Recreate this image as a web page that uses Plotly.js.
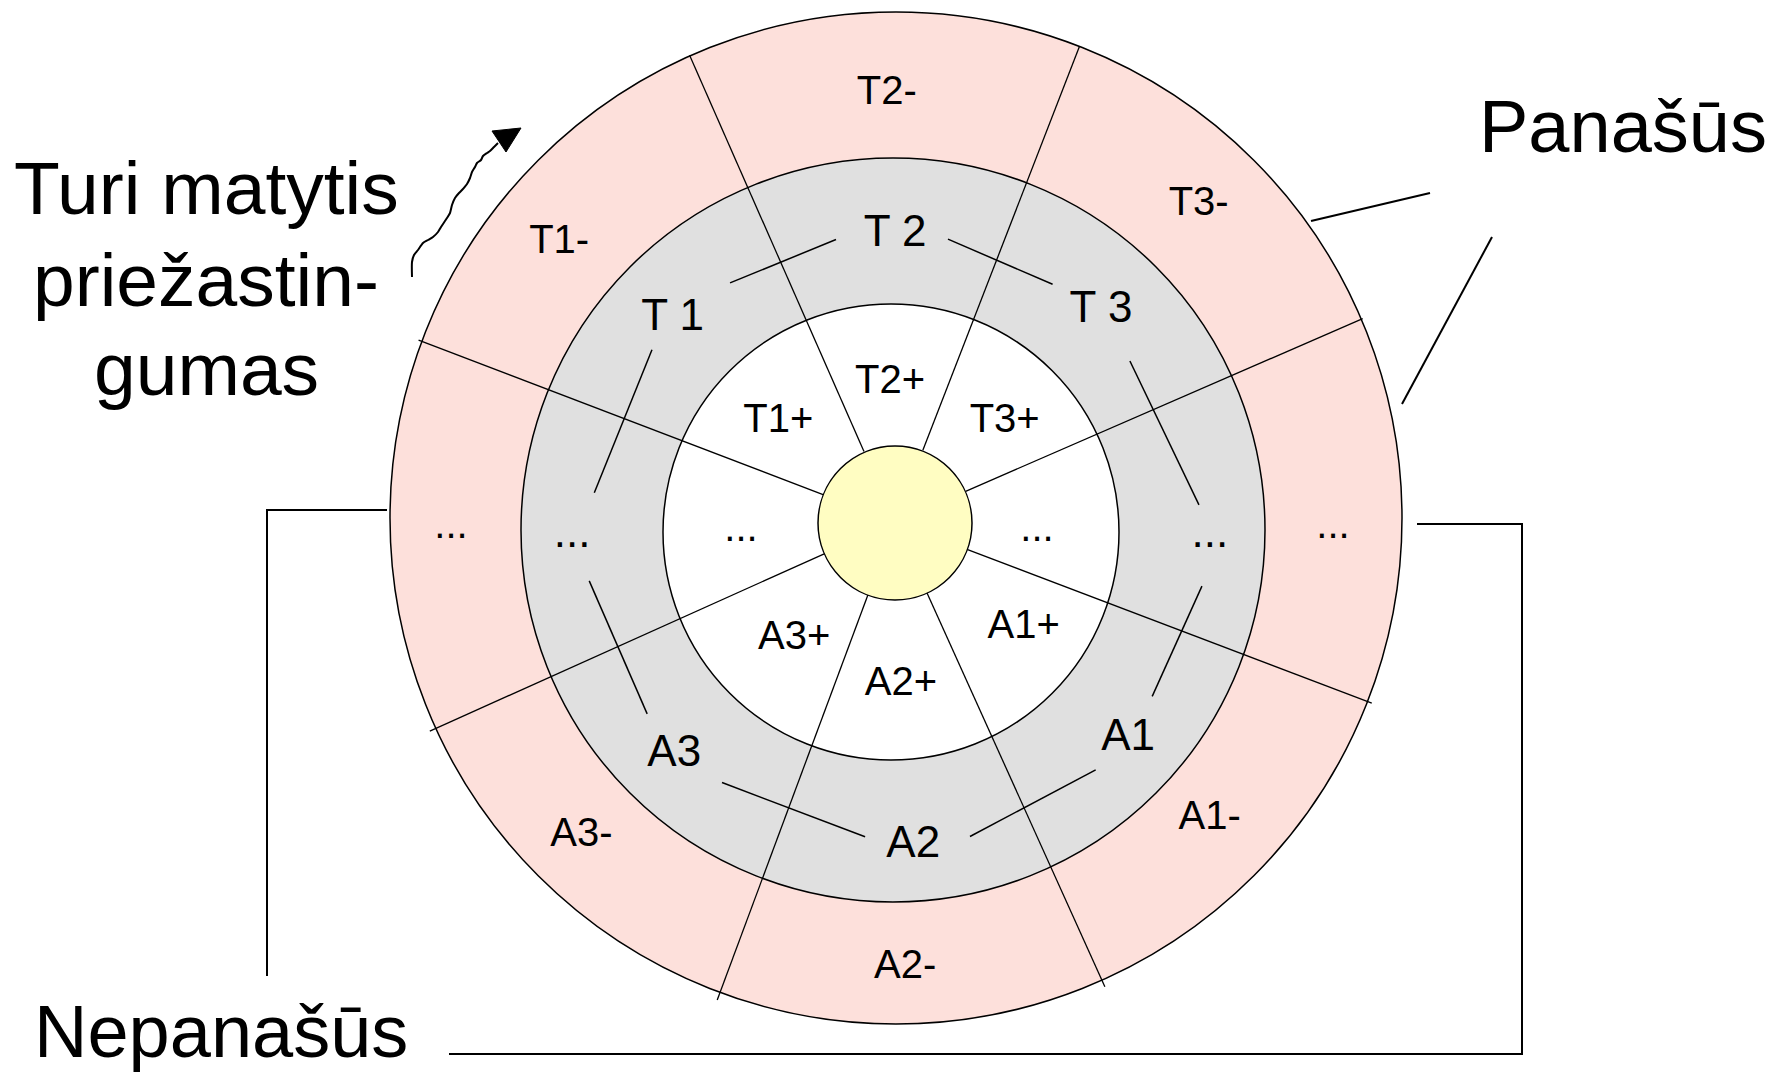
<!DOCTYPE html>
<html><head><meta charset="utf-8">
<script src="https://cdn.plot.ly/plotly-3.0.1.min.js"></script>
<style>html,body{margin:0;padding:0;background:#fff;overflow:hidden}#chart{width:1768px;height:1073px}</style>
</head><body><div id="chart"></div>
<script>
// ---- data ----
const labelAngles  = [0, 45, 90, 135, 180, 225, 270, 315];
const innerLabels  = ['...', 'T3+', 'T2+', 'T1+', '...', 'A3+', 'A2+', 'A1+'];
const middleLabels = ['...', 'T 3', 'T 2', 'T 1', '...', 'A3', 'A2', 'A1'];
const outerLabels  = ['...', 'T3-', 'T2-', 'T1-', '...', 'A3-', 'A2-', 'A1-'];
const spokeAngles  = [23.5, 68.8, 113.75, 159.1, 204.2, 249.6, 294.3, 339.2];
const sideTitle    = ['Turi matytis', 'priežastin-', 'gumas'];
const similarLabel    = 'Panašūs';
const dissimilarLabel = 'Nepanašūs';

// ---- geometry / style (layout only) ----
const W = 1768, H = 1073;
const FONT = 'Liberation Sans, Arial, sans-serif';
const C = {cx: 893, cy: 530};
const TEXT_DY = 4;
const geo = {
  outer:  {cx: 896, cy: 518, r: 506, fill: '#FDE0DB'},
  middle: {cx: 893, cy: 530, r: 372, fill: '#E0E0E0'},
  inner:  {cx: 891, cy: 532, r: 228, fill: '#FFFFFF'},
  core:   {cx: 895, cy: 523, r: 77,  fill: '#FFFDC2'},
  spoke:  {cx: 895, cy: 522, r0: 77, r1: 510}
};
// per-label placement: [angle offset from labelAngles, radius], around C
const place = {
  outer:  {size: 40, a: [0.4, 2.1, 0.8, 3.9, -0.4, -0.9, 1.6, 3.0], r: [440, 449, 440, 443, 442, 434, 434, 426]},
  middle: {size: 44, a: [-0.9, 2.0, -0.4, 0.7, 0.9, 0.3, 3.7, 3.9], r: [317, 305, 299, 308, 321, 311, 313, 312]},
  inner:  {size: 40, a: [0, 0, 1.1, 0.8, 0, 1.7, 3.0, 9.3],       r: [144, 158, 151, 160, 152, 144, 151, 161]}
};
// connectors in the middle ring, between consecutive labels: [a0, a1], [r0, r1]
const conn = {
  a: [[172.9, 143.2], [123.4, 101.1], [79.3, 57.0], [35.5, 4.7], [-10.3, -32.7], [-49.8, -75.9], [264.8, 235.9], [216.8, 189.5]],
  r: [[301, 301], [296, 296], [296, 293], [291, 307], [314, 308], [314, 316], [308, 305], [307, 308]]
};
const rad = d => d * Math.PI / 180;
const px = (c, r, a) => c.cx + r * Math.cos(rad(a));
const py = (c, r, a) => c.cy - r * Math.sin(rad(a));

function circleShape(c, layer) {
  return {type: 'circle', xref: 'x', yref: 'y', layer: layer,
    x0: c.cx - c.r, x1: c.cx + c.r, y0: c.cy - c.r, y1: c.cy + c.r,
    fillcolor: c.fill, line: {color: '#000', width: 1.5}};
}

const shapes = [
  circleShape(geo.outer, 'below'),
  circleShape(geo.middle, 'below'),
  circleShape(geo.inner, 'below'),
  circleShape(geo.core, 'above'),
  {type: 'path', xref: 'x', yref: 'y', layer: 'above',
   path: 'M492,131 L521,128 L506,152 Z', fillcolor: '#000', line: {color: '#000', width: 1}}
];

const traces = [];
{
  const xs = [], ys = [];
  spokeAngles.forEach(a => {
    xs.push(px(geo.spoke, geo.spoke.r0, a), px(geo.spoke, geo.spoke.r1, a), null);
    ys.push(py(geo.spoke, geo.spoke.r0, a), py(geo.spoke, geo.spoke.r1, a), null);
  });
  traces.push({x: xs, y: ys, mode: 'lines', line: {color: '#000', width: 1.3}, hoverinfo: 'skip'});
}
{
  const xs = [], ys = [];
  conn.a.forEach((pair, i) => {
    xs.push(px(C, conn.r[i][0], pair[0]), px(C, conn.r[i][1], pair[1]), null);
    ys.push(py(C, conn.r[i][0], pair[0]), py(C, conn.r[i][1], pair[1]), null);
  });
  traces.push({x: xs, y: ys, mode: 'lines', line: {color: '#000', width: 1.5}, hoverinfo: 'skip'});
}
traces.push({x: [387, 267, 267], y: [510, 510, 976], mode: 'lines', line: {color: '#000', width: 2}, hoverinfo: 'skip'});
traces.push({x: [1417, 1522, 1522, 449], y: [524, 524, 1054, 1054], mode: 'lines', line: {color: '#000', width: 2}, hoverinfo: 'skip'});
traces.push({x: [1311, 1430, null, 1402, 1492], y: [221, 193, null, 404, 237], mode: 'lines', line: {color: '#000', width: 2}, hoverinfo: 'skip'});
traces.push({
  x: [412, 412, 414, 418, 423, 428, 433, 438, 441, 447, 450, 452, 455, 459, 462, 467, 470, 472, 475, 477, 481, 483, 487, 490, 494, 498],
  y: [277, 262, 255, 250, 243, 240, 237, 232, 227, 218, 213, 205, 198, 193, 190, 184, 178, 172, 167, 163, 160, 156, 153, 151, 147, 143],
  mode: 'lines', line: {color: '#000', width: 2, shape: 'spline', smoothing: 0.6}, hoverinfo: 'skip'});

function ringText(labels, p) {
  const ang = labelAngles.map((a, i) => a + p.a[i]);
  return {x: ang.map((a, i) => px(C, p.r[i], a)),
    y: ang.map((a, i) => py(C, p.r[i], a) + (labels[i] === '...' ? 1 : TEXT_DY)),
    text: labels, mode: 'text', textposition: 'middle center',
    textfont: {family: FONT, size: p.size, color: '#000'}, hoverinfo: 'skip'};
}
traces.push(ringText(outerLabels, place.outer));
traces.push(ringText(middleLabels, place.middle));
traces.push(ringText(innerLabels, place.inner));

const annotations = [];
const titleY = [188, 280, 369];
sideTitle.forEach((t, i) => annotations.push({x: 206, y: titleY[i], xref: 'x', yref: 'y', text: t,
  showarrow: false, xanchor: 'center', yanchor: 'middle', font: {family: FONT, size: 75, color: '#000'}}));
annotations.push({x: 1477, y: 126, xref: 'x', yref: 'y', text: similarLabel, showarrow: false,
  xanchor: 'left', yanchor: 'middle', font: {family: FONT, size: 74, color: '#000'}});
annotations.push({x: 32, y: 1031, xref: 'x', yref: 'y', text: dissimilarLabel, showarrow: false,
  xanchor: 'left', yanchor: 'middle', font: {family: FONT, size: 74, color: '#000'}});

const layout = {
  width: W, height: H, margin: {l: 0, r: 0, t: 0, b: 0, pad: 0},
  paper_bgcolor: '#fff', plot_bgcolor: '#fff', showlegend: false,
  xaxis: {range: [0, W], visible: false, fixedrange: true},
  yaxis: {range: [H, 0], visible: false, fixedrange: true},
  shapes: shapes, annotations: annotations
};
Plotly.newPlot('chart', traces, layout, {displayModeBar: false, staticPlot: true});
</script></body></html>
